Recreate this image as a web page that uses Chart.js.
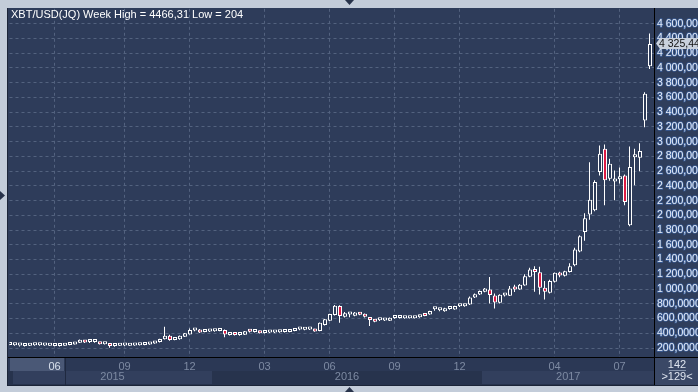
<!DOCTYPE html>
<html><head><meta charset="utf-8">
<script src="https://cdn.jsdelivr.net/npm/chart.js@4.4.1/dist/chart.umd.min.js"></script>
<style>html,body{margin:0;padding:0;background:#c3ccd9;overflow:hidden}canvas{display:block}</style>
</head><body>
<canvas id="c" width="698" height="392"></canvas>
<script>
// Weekly OHLC, XBT/USD (JQ)
const weekOpen = [240,236,234,226,230,236,236,234,232,228,228,232,240,248,272,304,280,280,272,252,250,228,232,234,232,233,238,240,246,262,
280,318,367,310,318,353,385,438,444,418,424,428,430,444,376,399,378,380,425,418,430,405,409,411,414,416,418,430,452,448,
452,457,430,511,570,647,769,624,656,637,682,660,616,589,575,573,570,606,608,604,604,605,616,640,656,726,712,700,728,724,
766,765,792,886,927,962,995,913,813,913,909,1022,995,1049,1166,1265,1229,1017,949,1098,1220,1179,1233,1324,1510,1775,2010,2068,2587,2903,
2498,2460,2490,2542,1865,2790,2781,3287,4022];
const weekHigh = [252,246,237,238,242,240,242,240,238,240,236,246,254,272,315,310,292,290,276,260,256,240,238,240,238,240,246,250,268,290,
326,488,380,335,370,402,465,462,458,432,432,436,458,450,415,410,385,432,440,428,434,418,418,420,425,424,428,462,468,460,
458,460,545,592,665,785,780,690,682,690,690,668,622,595,590,588,615,618,614,610,612,612,650,648,706,751,735,745,746,775,
785,800,900,940,980,1015,1165,940,930,945,1040,1060,1070,1200,1290,1310,1301,1111,1125,1225,1235,1250,1350,1560,1730,2028,2722,2475,2949,2962,
2769,2610,2650,2556,2935,2903,2980,3670,4466.31];
const weekLow = [236,232,220,222,226,232,232,230,228,224,222,230,238,246,268,268,268,272,248,246,204,216,226,228,226,230,234,236,244,258,
276,316,300,305,312,350,382,428,405,414,418,420,426,345,370,370,368,376,412,412,396,398,402,404,408,412,414,428,442,442,
446,420,428,505,565,640,543,615,616,630,645,615,498,550,565,566,565,598,602,598,600,600,612,630,650,705,700,692,718,720,
758,760,785,880,920,955,805,737,805,900,905,960,990,1045,1160,962,927,859,940,1090,1160,1170,1225,1310,1500,1655,1942,2055,2542,2136,
2470,2204,2434,2136,1852,2407,2600,3196,3987];
const weekClose = [248,242,236,234,238,238,237,236,234,232,234,244,252,268,306,274,284,282,252,256,228,234,234,236,233,238,244,246,264,285,
322,367,308,331,367,399,444,448,412,424,428,430,438,385,407,376,382,428,421,422,399,409,412,414,418,418,424,457,456,453,
455,425,543,589,660,773,633,670,662,682,651,624,579,556,579,577,610,610,611,607,607,608,647,636,701,732,716,737,735,769,
772,796,886,931,972,1008,918,819,922,931,1008,995,1057,1175,1265,1233,1017,962,1111,1220,1184,1243,1310,1536,1716,1960,2213,2452,2836,2475,
2700,2470,2500,2181,2655,2813,2872,3649,4325.44];

const monthTickIdx  = [9, 23, 36, 51, 64, 77, 90, 109, 122];
const monthTickText = ['06','09','12','03','06','09','12','04','07'];
const yearLabels    = ['2015','2016','2017'];
const yearStartIdx  = [0, 41, 95];
const yTickValues   = [200,400,600,800,1000,1200,1400,1600,1800,2000,2200,2400,2600,2800,3000,3200,3400,3600,3800,4000,4200,4400,4600];
const titleText = 'XBT/USD(JQ) Week High = 4466,31 Low = 204';
const lastPrice = 4325.44;
const totalBars = 142, visibleBars = 129;

// categories: one per weekly bar (+1 empty slot at the right edge)
const weekLabels = [];
for (let i = 0; i <= weekOpen.length; i++) weekLabels.push('W' + (i + 1));

const FONT = "'Liberation Sans Narrow','Arial Narrow','Liberation Sans',Arial,sans-serif";
const PLOT_BG = '#2e3c5a';
const RED = '#dc1a44';
const GRID = '#53627f';

function fmtPrice(v, dec) {
  const ip = Math.floor(v);
  const s = String(ip);
  const th = s.length > 3 ? s.slice(0, s.length - 3) + ' ' + s.slice(-3) : s;
  const frac = Math.round((v - ip) * Math.pow(10, dec)).toString().padStart(dec, '0');
  return th + ',' + frac;
}
function fmtTick(v) { return v >= 1000 ? fmtPrice(v, 3) : fmtPrice(v, 4); }

const isDown = weekOpen.map((o, i) => weekClose[i] < o);
const bodyData = weekOpen.map((o, i) => [o, weekClose[i]]);
const wickData = weekLow.map((l, i) => [l, weekHigh[i]]);

const framePlugin = {
  id: 'frame',
  afterLayout(chart) {
    const s = chart.scales.xb;
    if (s) s._startPixel += 0.5;
  },
  beforeDraw(chart) {
    const ctx = chart.ctx, a = chart.chartArea, x = chart.scales.x;
    ctx.save();
    ctx.fillStyle = '#c3ccd9';
    ctx.fillRect(0, 0, 698, 392);
    ctx.fillStyle = PLOT_BG;
    ctx.fillRect(8, 8, 690, 349);
    ctx.fillStyle = '#2f3e5c';
    ctx.fillRect(655, 8, 43, 349);
    ctx.fillStyle = '#1c2538';
    ctx.fillRect(7, 8, 1, 378);
    ctx.fillStyle = '#2b3855';
    ctx.fillRect(8, 357, 647, 14);
    ctx.fillStyle = '#27334d';
    ctx.fillRect(8, 371, 647, 14);
    const step = x.getPixelForValue(1) - x.getPixelForValue(0);
    yearStartIdx.forEach((s, k) => {
      let x0 = k === 0 ? 13 : x.getPixelForValue(s) - step / 2;
      let x1 = k + 1 < yearStartIdx.length ? x.getPixelForValue(yearStartIdx[k + 1]) - step / 2 : a.right;
      if (k % 2 === 0) {
        ctx.fillStyle = '#323f5d';
        ctx.fillRect(x0, 371, x1 - x0, 13);
      }
      ctx.fillStyle = '#7d8aa2';
      ctx.font = '11px ' + FONT;
      ctx.textAlign = 'center';
      ctx.textBaseline = 'middle';
      ctx.fillText(yearLabels[k], (x0 + x1) / 2, 377);
    });
    ctx.fillStyle = '#4a5876';
    ctx.fillRect(10, 358, 54, 13);
    ctx.fillStyle = '#1f2940';
    ctx.fillRect(65, 358, 1, 27);
    ctx.fillStyle = '#3a4866';
    ctx.fillRect(655, 357, 43, 28);
    ctx.fillStyle = '#dfe5ef';
    ctx.font = '11px ' + FONT;
    ctx.textAlign = 'center';
    ctx.textBaseline = 'middle';
    ctx.fillText(String(totalBars), 677, 365);
    ctx.fillText('>' + visibleBars + '<', 677, 377);
    ctx.fillStyle = '#8593ab';
    ctx.fillRect(669, 370, 17, 1);
    ctx.restore();
  },
  afterDraw(chart) {
    const ctx = chart.ctx, y = chart.scales.y;
    ctx.save();
    ctx.fillStyle = '#000';
    ctx.fillRect(8, 357, 690, 1);
    ctx.fillRect(654, 8, 1, 377);
    ctx.fillStyle = '#1c2538';
    ctx.fillRect(7, 385, 691, 1);
    ctx.fillStyle = '#ffffff';
    ctx.font = '11px ' + FONT;
    ctx.textAlign = 'left';
    ctx.textBaseline = 'middle';
    ctx.fillText(titleText, 11, 15);
    const py = Math.round(y.getPixelForValue(lastPrice)) - 0.5;
    ctx.fillStyle = '#c9d1dd';
    ctx.beginPath();
    ctx.moveTo(656, py);
    ctx.lineTo(660, py - 5.5);
    ctx.lineTo(698, py - 5.5);
    ctx.lineTo(698, py + 5.5);
    ctx.lineTo(660, py + 5.5);
    ctx.closePath();
    ctx.fill();
    ctx.fillStyle = '#111';
    ctx.font = '10.5px ' + FONT;
    ctx.fillText(fmtPrice(lastPrice, 2), 659, py + 0.5);
    ctx.fillStyle = '#27324a';
    ctx.beginPath(); ctx.moveTo(345, 0); ctx.lineTo(354, 0); ctx.lineTo(349.5, 5); ctx.closePath(); ctx.fill();
    ctx.beginPath(); ctx.moveTo(0, 191); ctx.lineTo(5, 195.5); ctx.lineTo(0, 200); ctx.closePath(); ctx.fill();
    ctx.beginPath(); ctx.moveTo(345, 392); ctx.lineTo(354, 392); ctx.lineTo(349.5, 387); ctx.closePath(); ctx.fill();
    ctx.restore();
  }
};

new Chart(document.getElementById('c'), {
  type: 'bar',
  data: {
    labels: weekLabels,
    datasets: [
      {
        label: 'body', data: bodyData, xAxisID: 'xb', yAxisID: 'y', order: 0,
        backgroundColor: (c) => isDown[c.dataIndex] ? RED : PLOT_BG,
        borderColor: '#ffffff', borderWidth: 1, borderSkipped: false,
        barThickness: 4, minBarLength: 3, grouped: false, inflateAmount: 0
      },
      {
        label: 'wick', data: wickData, xAxisID: 'x', yAxisID: 'y', order: 1,
        backgroundColor: '#ffffff', borderWidth: 0,
        barThickness: 1, grouped: false, inflateAmount: 0
      }
    ]
  },
  options: {
    responsive: false, animation: false, devicePixelRatio: 1,
    layout: { padding: { left: 9.5, top: 8, right: 0, bottom: 7 } },
    plugins: { legend: { display: false }, tooltip: { enabled: false }, title: { display: false } },
    scales: {
      x: {
        type: 'category', position: 'bottom', offset: false,
        afterFit: (s) => { s.height = 28; },
        grid: {
          offset: false, drawTicks: false, lineWidth: 1,
          color: (c) => monthTickIdx.includes(c.index) ? GRID : 'rgba(0,0,0,0)'
        },
        border: { display: false, dash: [3, 3] },
        ticks: {
          autoSkip: false, maxRotation: 0, minRotation: 0, padding: 3,
          font: { family: FONT, size: 11 },
          color: (c) => c.index === monthTickIdx[0] ? '#d8e0ec' : '#7d8aa2',
          callback: (v, i) => { const k = monthTickIdx.indexOf(i); return k >= 0 ? monthTickText[k] : ''; }
        }
      },
      xb: {
        type: 'category', display: false, offset: false,
        grid: { display: false }
      },
      y: {
        type: 'linear', position: 'right', min: 78, max: 4803,
        afterBuildTicks: (s) => { s.ticks = yTickValues.map(v => ({ value: v })); },
        afterFit: (s) => { s.width = 43.5; },
        grid: { color: GRID, drawTicks: false, lineWidth: 1 },
        border: { display: false, dash: [3, 3] },
        ticks: {
          autoSkip: false, padding: 2.5, crossAlign: 'near',
          color: '#e6ecf7', font: { family: FONT, size: 10.5 },
          textStrokeColor: 'rgba(70,130,225,0.45)', textStrokeWidth: 1.5,
          callback: (v) => fmtTick(v)
        }
      }
    }
  },
  plugins: [framePlugin]
});
</script>
</body></html>
